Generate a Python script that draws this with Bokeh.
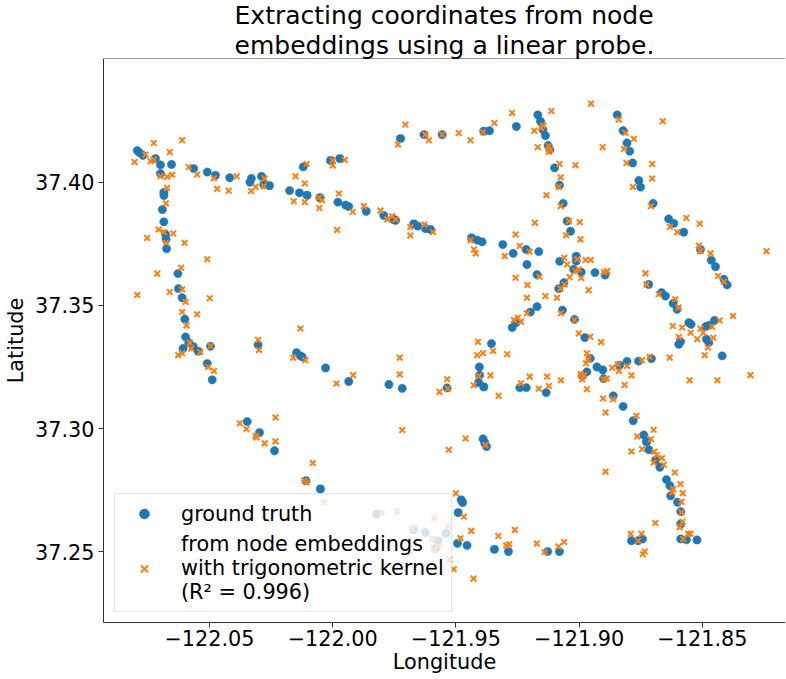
from bokeh.plotting import figure
from bokeh.models import (Range1d, FixedTicker, CustomJSTickFormatter, Legend, LegendItem,
                          Span)
from bokeh.embed import file_html
from bokeh.resources import INLINE

# ---------------- data (longitude, latitude) ----------------
title_text = "Extracting coordinates from node\nembeddings using a linear probe."
x_label = "Longitude"
y_label = "Latitude"
x_ticks = [-122.05, -122.00, -121.95, -121.90, -121.85]
y_ticks = [37.25, 37.30, 37.35, 37.40]
label_truth = "ground truth"
label_probe = "from node embeddings\nwith trigonometric kernel\n(R\u00b2 = 0.996)"

truth_points = [
    (-122.0793, 37.4128), (-122.0783, 37.4119), (-122.0770, 37.4109),
    (-122.0719, 37.4096), (-122.0699, 37.4070), (-122.0654, 37.4072), (-122.0699, 37.4035),
    (-122.0685, 37.3959), (-122.0685, 37.3946), (-122.0691, 37.3889), (-122.0685, 37.3839),
    (-122.0678, 37.3788), (-122.0676, 37.3768), (-122.0674, 37.3730),
    (-122.0628, 37.3629), (-122.0626, 37.3568), (-122.0611, 37.3531),
    (-122.0564, 37.4055), (-122.0509, 37.4041), (-122.0476, 37.4028), (-122.0418, 37.4018),
    (-122.0330, 37.4015), (-122.0336, 37.4000), (-122.0289, 37.4024), (-122.0280, 37.3991),
    (-122.0257, 37.3986), (-122.0175, 37.3966), (-122.0135, 37.3957), (-122.0104, 37.3947),
    (-122.0052, 37.3937), (-121.9979, 37.3919), (-121.9948, 37.3907), (-121.9935, 37.3901),
    (-121.9864, 37.3882), (-121.9793, 37.3865), (-121.9752, 37.3849), (-121.9745, 37.3845),
    (-121.9671, 37.3831), (-121.9655, 37.3822), (-121.9624, 37.3812), (-121.9603, 37.3808),
    (-122.0120, 37.4062), (-122.0009, 37.4088), (-121.9971, 37.4096),
    (-121.9725, 37.4177), (-121.9630, 37.4193), (-121.9556, 37.4193),
    # upper middle / right
    (-121.9387, 37.4207), (-121.9364, 37.4209), (-121.9255, 37.4226),
    (-121.9168, 37.4273), (-121.9157, 37.4247), (-121.9147, 37.4213), (-121.9137, 37.4189),
    (-121.9126, 37.4149), (-121.9119, 37.4132), (-121.9100, 37.4058), (-121.9080, 37.3988),
    (-121.9065, 37.3914), (-121.9049, 37.3842), (-121.9035, 37.3801),
    (-121.8846, 37.4273), (-121.8822, 37.4209), (-121.8806, 37.4159), (-121.8795, 37.4126),
    (-121.8783, 37.4078), (-121.8758, 37.4007), (-121.8751, 37.3980), (-121.8700, 37.3914),
    (-121.8637, 37.3851), (-121.8616, 37.3833), (-121.8576, 37.3797), (-121.8508, 37.3727),
    (-121.8464, 37.3683), (-121.8447, 37.3657), (-121.8413, 37.3606), (-121.8400, 37.3583),
    (-121.9437, 37.3774), (-121.9414, 37.3765), (-121.9394, 37.3758), (-121.9310, 37.3747),
    (-121.9268, 37.3711), (-121.9215, 37.3727), (-121.9164, 37.3718), (-121.9212, 37.3666),
    (-121.9171, 37.3625), (-121.9079, 37.3679), (-121.9012, 37.3700), (-121.9012, 37.3680),
    (-121.9022, 37.3646), (-121.8992, 37.3635), (-121.8936, 37.3633), (-121.8895, 37.3623),
    (-121.9062, 37.3592), (-121.9083, 37.3568), (-121.8718, 37.3585), (-121.8666, 37.3552),
    (-121.8650, 37.3538),
    # left middle
    (-122.0600, 37.3444), (-122.0597, 37.3372), (-122.0607, 37.3325), (-122.0584, 37.3349),
    (-122.0566, 37.3333), (-122.0546, 37.3314), (-122.0509, 37.3264), (-122.0489, 37.3198),
    (-122.0496, 37.3334), (-122.0303, 37.3340), (-122.0147, 37.3308), (-122.0131, 37.3295),
    (-122.0124, 37.3291), (-122.0029, 37.3246), (-121.9935, 37.3191), (-121.9772, 37.3179),
    (-121.9718, 37.3163), (-121.9536, 37.3165), (-122.0347, 37.3028), (-122.0297, 37.2984),
    (-122.0236, 37.2910), (-122.0108, 37.2789), (-122.0050, 37.2755),
    # right middle
    (-121.8619, 37.3508), (-121.8603, 37.3484), (-121.9171, 37.3495), (-121.9198, 37.3473),
    (-121.9255, 37.3430), (-121.9272, 37.3410), (-121.9068, 37.3481), (-121.9019, 37.3443),
    (-121.8977, 37.3369), (-121.9356, 37.3345), (-121.9405, 37.3250), (-121.9404, 37.3217),
    (-121.9408, 37.3187), (-121.9387, 37.3169), (-121.9241, 37.3166), (-121.9215, 37.3166),
    (-121.9134, 37.3146), (-121.9390, 37.2958), (-121.9383, 37.2942), (-121.9376, 37.2927),
    (-121.8955, 37.3285), (-121.8928, 37.3250), (-121.8904, 37.3238), (-121.8969, 37.3230),
    (-121.8988, 37.3214), (-121.8901, 37.3203), (-121.8862, 37.3133), (-121.8822, 37.3090),
    (-121.8781, 37.3032), (-121.8738, 37.2974), (-121.8727, 37.2946), (-121.8717, 37.2914),
    (-121.8690, 37.2873), (-121.8673, 37.2843), (-121.8646, 37.2793), (-121.8632, 37.2768),
    (-121.8836, 37.3257), (-121.8806, 37.3273), (-121.8759, 37.3274), (-121.8707, 37.3284),
    (-121.8555, 37.3430), (-121.8546, 37.3423), (-121.8487, 37.3414), (-121.8474, 37.3419),
    (-121.8451, 37.3439), (-121.8484, 37.3363), (-121.8474, 37.3349), (-121.8596, 37.3342),
    (-121.8589, 37.3353), (-121.8420, 37.3295),
    # bottom
    (-121.9822, 37.2653), (-121.9673, 37.2589), (-121.9624, 37.2578), (-121.9571, 37.2544),
    (-121.9540, 37.2575), (-121.9583, 37.2513), (-121.9479, 37.2711), (-121.9473, 37.2700),
    (-121.9491, 37.2659), (-121.9494, 37.2534), (-121.9455, 37.2526), (-121.9344, 37.2510),
    (-121.9287, 37.2501), (-121.9128, 37.2501), (-121.9080, 37.2501), (-121.8629, 37.2727),
    (-121.8601, 37.2701), (-121.8588, 37.2663), (-121.8588, 37.2613), (-121.8788, 37.2545),
    (-121.8761, 37.2545), (-121.8743, 37.2552), (-121.8588, 37.2552), (-121.8565, 37.2549),
    (-121.8522, 37.2548),
]

probe_points = [
    (-122.0804, 37.4082), (-122.0760, 37.4112), (-122.0726, 37.4159), (-122.0739, 37.4085),
    (-122.0726, 37.4092), (-122.0661, 37.4122), (-122.0611, 37.4170), (-122.0584, 37.4062),
    (-122.0550, 37.4031), (-122.0699, 37.4024), (-122.0672, 37.4022), (-122.0651, 37.4030),
    (-122.0672, 37.3977), (-122.0677, 37.3914), (-122.0753, 37.3774), (-122.0706, 37.3808),
    (-122.0685, 37.3797), (-122.0647, 37.3792), (-122.0676, 37.3754), (-122.0601, 37.3754),
    (-122.0509, 37.3687), (-122.0712, 37.3629), (-122.0615, 37.3653), (-122.0793, 37.3542),
    (-122.0661, 37.3554), (-122.0611, 37.3565), (-122.0499, 37.3529), (-122.0469, 37.3973),
    (-122.0422, 37.3965), (-122.0482, 37.4016), (-122.0390, 37.4024), (-122.0331, 37.3964),
    (-122.0313, 37.3981), (-122.0280, 37.3984), (-122.0276, 37.4015), (-122.0151, 37.4024),
    (-122.0113, 37.3995), (-122.0106, 37.4074), (-122.0158, 37.3923), (-122.0113, 37.3919),
    (-122.0054, 37.3895), (-122.0043, 37.3927), (-122.0056, 37.3937), (-121.9975, 37.3954),
    (-122.0000, 37.4068), (-122.0000, 37.4089), (-121.9951, 37.4090), (-121.9982, 37.3806),
    (-121.9919, 37.3880), (-121.9874, 37.3903), (-121.9806, 37.3885), (-121.9779, 37.3849),
    (-121.9759, 37.3862), (-121.9745, 37.3849), (-121.9685, 37.3818), (-121.9685, 37.3784),
    (-121.9628, 37.3828), (-121.9593, 37.3797), (-121.9735, 37.4153), (-121.9705, 37.4234),
    (-121.9624, 37.4193), (-121.9610, 37.4170), (-121.9556, 37.4193),
    # upper middle / right
    (-121.9489, 37.4200), (-121.9441, 37.4170), (-121.9391, 37.4203), (-121.9344, 37.4240),
    (-121.9272, 37.4281), (-121.9182, 37.4209), (-121.9155, 37.4220), (-121.9145, 37.4230),
    (-121.9113, 37.4289), (-121.9168, 37.4142), (-121.9124, 37.4146), (-121.9117, 37.4132),
    (-121.9124, 37.4123), (-121.9080, 37.4074), (-121.9015, 37.4069), (-121.9075, 37.4020),
    (-121.9083, 37.3981), (-121.9133, 37.3947), (-121.9075, 37.3903), (-121.8952, 37.4319),
    (-121.8839, 37.4254), (-121.8905, 37.4142), (-121.8818, 37.4135), (-121.8808, 37.4078),
    (-121.8778, 37.4176), (-121.8812, 37.4200), (-121.8704, 37.4074), (-121.8704, 37.4015),
    (-121.8782, 37.3981), (-121.8661, 37.4247), (-121.8709, 37.3903), (-121.8565, 37.3855),
    (-121.8511, 37.3831), (-121.8632, 37.3819), (-121.8602, 37.3797), (-121.8515, 37.3743),
    (-121.8508, 37.3720), (-121.8467, 37.3711), (-121.8437, 37.3619), (-121.8413, 37.3596),
    (-121.8240, 37.3720), (-121.9180, 37.3835), (-121.8998, 37.3838), (-121.9053, 37.3785),
    (-121.8995, 37.3768), (-121.9042, 37.3842), (-121.9258, 37.3788), (-121.9441, 37.3765),
    (-121.9427, 37.3727), (-121.9420, 37.3711), (-121.9241, 37.3741), (-121.9302, 37.3700),
    (-121.9201, 37.3718), (-121.9258, 37.3612), (-121.9210, 37.3583), (-121.9161, 37.3616),
    (-121.9212, 37.3531), (-121.9137, 37.3538), (-121.9090, 37.3531), (-121.9060, 37.3693),
    (-121.9049, 37.3666), (-121.9008, 37.3687), (-121.8974, 37.3684), (-121.8953, 37.3684),
    (-121.9015, 37.3639), (-121.9002, 37.3646), (-121.8992, 37.3611), (-121.9039, 37.3615),
    (-121.9059, 37.3585), (-121.9076, 37.3568), (-121.8962, 37.3562), (-121.8900, 37.3635),
    (-121.8886, 37.3639), (-121.8731, 37.3630), (-121.8727, 37.3585), (-121.8677, 37.3545),
    (-121.8610, 37.3525),
    # left middle
    (-122.0597, 37.3514), (-122.0611, 37.3473), (-122.0550, 37.3464), (-122.0593, 37.3419),
    (-122.0580, 37.3349), (-122.0574, 37.3325), (-122.0627, 37.3298), (-122.0611, 37.3306),
    (-122.0537, 37.3311), (-122.0496, 37.3335), (-122.0505, 37.3250), (-122.0482, 37.3234),
    (-122.0303, 37.3360), (-122.0299, 37.3319), (-122.0131, 37.3406), (-122.0160, 37.3288),
    (-122.0111, 37.3277), (-121.9985, 37.3183), (-121.9917, 37.3217), (-121.9728, 37.3288),
    (-121.9728, 37.3220), (-121.9718, 37.2994), (-121.9567, 37.3149), (-121.9536, 37.3200),
    (-121.9529, 37.2914), (-122.0377, 37.3022), (-122.0350, 37.2998), (-122.0313, 37.2971),
    (-122.0309, 37.2964), (-122.0276, 37.2940), (-122.0232, 37.3045), (-122.0232, 37.2948),
    (-122.0081, 37.2860), (-122.0115, 37.2789), (-122.0106, 37.2782),
    # right middle
    (-121.8597, 37.3491), (-121.9249, 37.3450), (-121.9236, 37.3434), (-121.9265, 37.3441),
    (-121.9212, 37.3468), (-121.9074, 37.3468), (-121.9019, 37.3441), (-121.9002, 37.3386),
    (-121.8955, 37.3373), (-121.8911, 37.3351), (-121.9411, 37.3352), (-121.9414, 37.3298),
    (-121.9390, 37.3306), (-121.9349, 37.3315), (-121.9292, 37.3302), (-121.9533, 37.3162),
    (-121.9428, 37.3176), (-121.9408, 37.3213), (-121.9360, 37.3216), (-121.9327, 37.3133),
    (-121.9236, 37.3184), (-121.9201, 37.3211), (-121.9164, 37.3162), (-121.9130, 37.3211),
    (-121.9123, 37.3173), (-121.9074, 37.3196), (-121.9461, 37.2960), (-121.9380, 37.2933),
    (-121.8969, 37.3306), (-121.8962, 37.3282), (-121.8972, 37.3265), (-121.8994, 37.3221),
    (-121.8980, 37.3217), (-121.8988, 37.3200), (-121.8969, 37.3160), (-121.8901, 37.3200),
    (-121.8888, 37.3203), (-121.8866, 37.3247), (-121.8843, 37.3261), (-121.8839, 37.3234),
    (-121.8806, 37.3254), (-121.8788, 37.3216), (-121.8816, 37.3177), (-121.8903, 37.3122),
    (-121.8862, 37.3119), (-121.8893, 37.3065), (-121.8768, 37.3052), (-121.8745, 37.3277),
    (-121.8714, 37.3291), (-121.8633, 37.3288), (-121.8552, 37.3196), (-121.8439, 37.3196),
    (-121.8305, 37.3217), (-121.8620, 37.3416), (-121.8596, 37.3372), (-121.8582, 37.3410),
    (-121.8548, 37.3389), (-121.8521, 37.3363), (-121.8508, 37.3406), (-121.8497, 37.3389),
    (-121.8461, 37.3413), (-121.8430, 37.3439), (-121.8376, 37.3457), (-121.8456, 37.3369),
    (-121.8478, 37.3329), (-121.8491, 37.3298), (-121.8765, 37.2968), (-121.8788, 37.2907),
    (-121.8745, 37.2917), (-121.8709, 37.2957), (-121.8698, 37.2995), (-121.8695, 37.2906),
    (-121.8686, 37.2892), (-121.8664, 37.2880), (-121.8698, 37.2862), (-121.8657, 37.2853),
    (-121.8612, 37.2822), (-121.8589, 37.2775), (-121.8893, 37.2825),
    # bottom
    (-122.0036, 37.2700), (-121.9801, 37.2659), (-121.9739, 37.2664), (-121.9588, 37.2635),
    (-121.9680, 37.2592), (-121.9597, 37.2551), (-121.9571, 37.2524), (-121.9588, 37.2510),
    (-121.9532, 37.2603), (-121.9526, 37.2469), (-121.9509, 37.2429), (-121.9500, 37.2737),
    (-121.9468, 37.2643), (-121.9438, 37.2585), (-121.9482, 37.2555), (-121.9429, 37.2391),
    (-121.9328, 37.2564), (-121.9296, 37.2526), (-121.9284, 37.2530), (-121.9261, 37.2589),
    (-121.9172, 37.2533), (-121.9140, 37.2499), (-121.9084, 37.2521), (-121.9061, 37.2540),
    (-121.8742, 37.2490), (-121.8618, 37.2754), (-121.8580, 37.2738), (-121.8623, 37.2741),
    (-121.8585, 37.2703), (-121.8585, 37.2660), (-121.8581, 37.2622), (-121.8592, 37.2600),
    (-121.8558, 37.2573), (-121.8549, 37.2573), (-121.8578, 37.2552), (-121.8691, 37.2617),
    (-121.8791, 37.2573), (-121.8747, 37.2573), (-121.8761, 37.2545), (-121.8734, 37.2501),
]

x_limits = (-122.0930, -121.8163)
y_limits = (37.2213, 37.4502)

truth_lon = [pt[0] for pt in truth_points]
truth_lat = [pt[1] for pt in truth_points]
probe_lon = [pt[0] for pt in probe_points]
probe_lat = [pt[1] for pt in probe_points]

FONT = "DejaVu Sans"
BLUE = "#1f77b4"
ORANGE = "#ff7f0e"
SPINE = "#333333"
FS = "20.8px"

p = figure(frame_width=682, frame_height=564,
           x_range=Range1d(*x_limits), y_range=Range1d(*y_limits),
           output_backend="svg", toolbar_location=None,
           min_border_left=95, min_border_right=0, min_border_top=0, min_border_bottom=0)
p.background_fill_color = "white"
p.border_fill_color = "white"
p.outline_line_color = None
p.grid.visible = False

p.title.text = title_text
p.title.text_font = FONT
p.title.text_font_size = "25px"
p.title.text_font_style = "normal"
p.title.text_color = "black"
p.title.text_line_height = 1.05
p.title.align = "center"
p.title.standoff = -3

fmt = CustomJSTickFormatter(code="""
    const s = Math.abs(tick).toFixed(2);
    return (tick < 0 ? "\\u2212" : "") + s;
""")

for ax in (p.xaxis[0], p.yaxis[0]):
    ax.formatter = fmt
    ax.major_label_text_font = FONT
    ax.major_label_text_font_size = FS
    ax.major_label_text_color = "black"
    ax.axis_label_text_font = FONT
    ax.axis_label_text_font_size = FS
    ax.axis_label_text_font_style = "normal"
    ax.axis_label_text_color = "black"
    ax.axis_line_color = SPINE
    ax.axis_line_width = 1
    ax.major_tick_line_color = SPINE
    ax.major_tick_out = 5
    ax.major_tick_in = 0
    ax.minor_tick_out = 0
    ax.minor_tick_in = 0

p.xaxis[0].ticker = FixedTicker(ticks=x_ticks)
p.yaxis[0].ticker = FixedTicker(ticks=y_ticks)
p.xaxis[0].axis_label = x_label
p.yaxis[0].axis_label = y_label
p.xaxis[0].major_label_standoff = 2
p.xaxis[0].axis_label_standoff = 1
p.yaxis[0].major_label_standoff = 4
p.yaxis[0].axis_label_standoff = 4

p.add_layout(Span(location=y_limits[1], dimension="width", line_color=SPINE, line_width=1))

r_truth = p.scatter(truth_lon, truth_lat, marker="circle", size=8.3,
                    fill_color=BLUE, line_color=BLUE, line_width=0.5)
r_probe = p.scatter(probe_lon, probe_lat, marker="x", size=8,
                    line_color=ORANGE, line_width=2)

legend = Legend(items=[LegendItem(label=label_truth, renderers=[r_truth]),
                       LegendItem(label=label_probe, renderers=[r_probe])],
                location=(11, 10), margin=0, padding=7, spacing=6,
                glyph_width=44, glyph_height=25, label_height=25, label_standoff=15,
                label_text_font=FONT, label_text_font_size=FS,
                label_text_color="black", label_text_line_height=1.32,
                border_line_color="#cccccc", border_line_width=1,
                background_fill_color="white", background_fill_alpha=0.8)
p.add_layout(legend)

open("out.html", "w").write(file_html(p, INLINE))
